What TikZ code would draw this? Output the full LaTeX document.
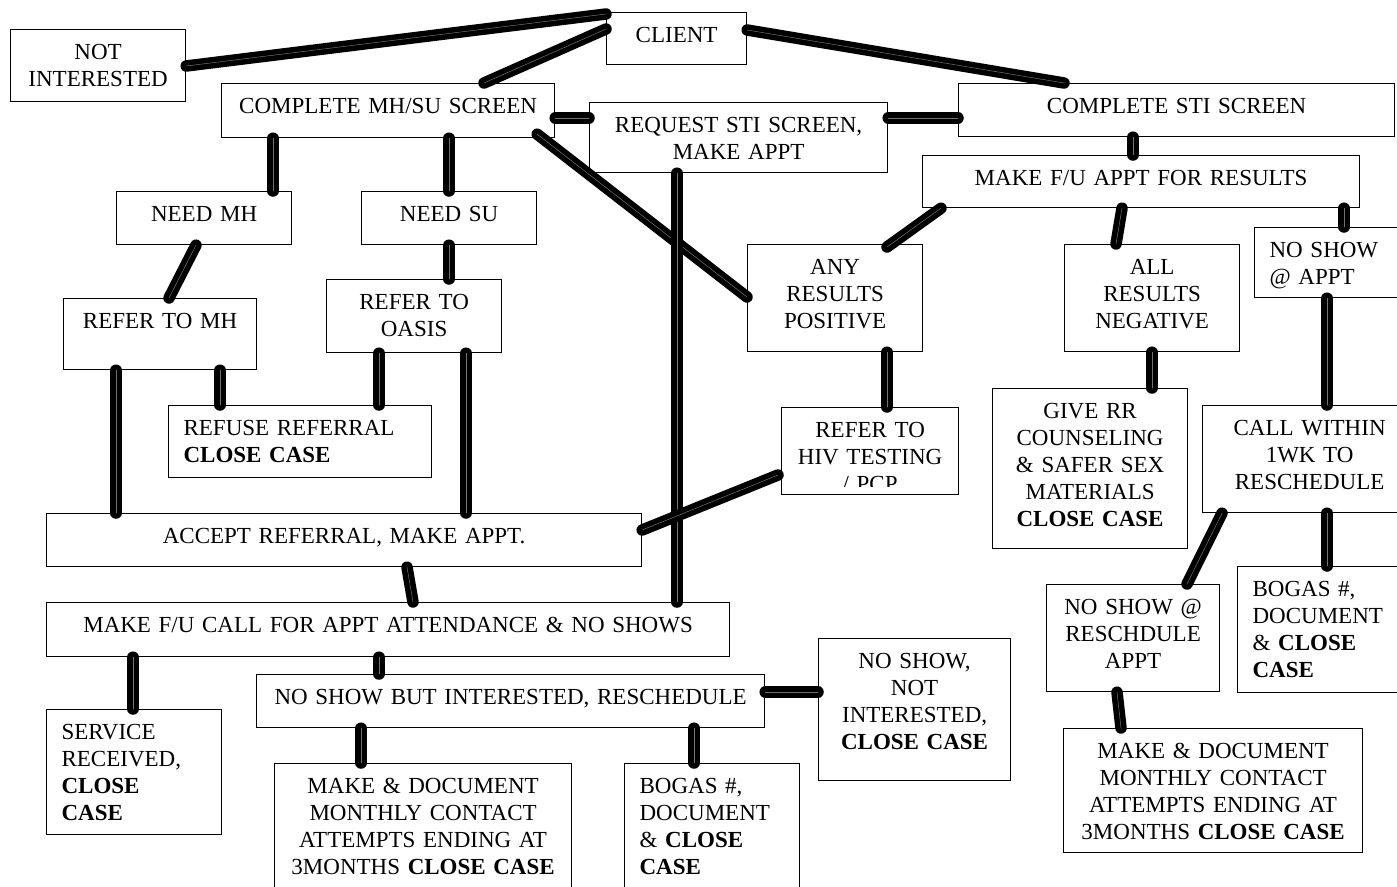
\documentclass[tikz,border=0pt]{standalone}
\usepackage{fontspec}
\setmainfont{Liberation Serif}
\usepackage{tikz}

\begin{document}
\begin{tikzpicture}[x=1pt, y=-1pt,
  box/.style={draw, line width=1.2pt, fill=white, anchor=north west, inner xsep=0pt, inner ysep=0pt, text height=30pt, align=center, font=\fontsize{23}{27}\selectfont},
  lbox/.style={box, inner xsep=15pt, align=left},
  link/.style={line width=5.5pt, double=black!55, double distance=0.5pt, line cap=round}]
  \useasboundingbox (0,0) rectangle (1397,886);
  \node[box, text width=140pt, text depth=22pt] (client) at (606,12) {CLIENT};
  \node[box, text width=175pt, text depth=42pt] (notint) at (10,29) {NOT\\INTERESTED};
  \node[box, text width=333pt, text depth=24pt] (mhsu) at (221,83) {COMPLETE MH/SU SCREEN};
  \node[box, text width=298pt, text depth=40pt] (req) at (589,102) {REQUEST STI SCREEN,\\MAKE APPT};
  \node[box, text width=436pt, text depth=23pt] (sti) at (958,83) {COMPLETE STI SCREEN};
  \node[box, text width=437pt, text depth=22pt] (fuappt) at (922,155) {MAKE F/U APPT FOR RESULTS};
  \node[box, text width=175pt, text depth=23pt] (needmh) at (116,191) {NEED MH};
  \node[box, text width=175pt, text depth=23pt] (needsu) at (361,191) {NEED SU};
  \node[box, text width=193pt, text depth=41pt] (refmh) at (63,298) {REFER TO MH};
  \node[box, text width=175pt, text depth=43pt] (oasis) at (326,279) {REFER TO\\OASIS};
  \node[box, text width=175pt, text depth=77pt] (anypos) at (747,244) {ANY\\RESULTS\\POSITIVE};
  \node[box, text width=175pt, text depth=77pt] (allneg) at (1064,244) {ALL\\RESULTS\\NEGATIVE};
  \node[lbox, text width=130pt, text depth=40pt] (noshow) at (1254,227) {NO SHOW\\@ APPT};
  \node[lbox, text width=233pt, text depth=42pt] (refuse) at (168,405) {REFUSE REFERRAL\\\textbf{CLOSE CASE}};
  \node[box, text width=177pt, text depth=57pt] (hiv) at (781,407) {};
  \begin{scope}
    \clip (hiv.north west) rectangle ([yshift=9pt]hiv.south east);
    \node[box, draw=none, fill=none, text width=177pt, text depth=57pt] (hivtext) at (781,407) {REFER TO\\HIV TESTING\\/ PCP};
  \end{scope}
  \node[box, text width=195pt, text depth=130pt] (giverr) at (992,388) {GIVE RR\\COUNSELING\\\& SAFER SEX\\MATERIALS\\\textbf{CLOSE CASE}};
  \node[box, text width=214pt, text depth=77pt] (call) at (1202,405) {CALL WITHIN\\1WK TO\\RESCHEDULE};
  \node[box, text width=595pt, text depth=23pt] (accept) at (46,513) {ACCEPT REFERRAL, MAKE APPT.};
  \node[box, text width=683pt, text depth=24pt] (mkfu) at (46,602) {MAKE F/U CALL FOR APPT ATTENDANCE \& NO SHOWS};
  \node[box, text width=173pt, text depth=77pt] (noresch) at (1046,584) {NO SHOW @\\RESCHDULE\\APPT};
  \node[lbox, text width=150pt, text depth=96pt] (bogas2) at (1237,566) {BOGAS \#,\\DOCUMENT\\\& \textbf{CLOSE}\\\textbf{CASE}};
  \node[box, text width=508pt, text depth=23pt] (nsbut) at (256,674) {NO SHOW BUT INTERESTED, RESCHEDULE};
  \node[box, text width=192pt, text depth=112pt] (nsnot) at (818,638) {NO SHOW,\\NOT\\INTERESTED,\\\textbf{CLOSE CASE}};
  \node[lbox, text width=145pt, text depth=95pt] (service) at (46,709) {SERVICE\\RECEIVED,\\\textbf{CLOSE}\\\textbf{CASE}};
  \node[box, text width=297pt, text depth=110pt] (mkdoc1) at (274,763) {MAKE \& DOCUMENT\\MONTHLY CONTACT\\ATTEMPTS ENDING AT\\3MONTHS \textbf{CLOSE CASE}};
  \node[lbox, text width=145pt, text depth=110pt] (bogas1) at (624,763) {BOGAS \#,\\DOCUMENT\\\& \textbf{CLOSE}\\\textbf{CASE}};
  \node[box, text width=299pt, text depth=94pt] (mkdoc2) at (1063,728) {MAKE \& DOCUMENT\\MONTHLY CONTACT\\ATTEMPTS ENDING AT\\3MONTHS \textbf{CLOSE CASE}};
  \draw[link] ([yshift=-2pt]client.north west) -- ([yshift=-37pt]notint.north east);
  \draw[link] ([yshift=-17pt]client.north west) -- ([xshift=263pt]mhsu.north west);
  \draw[link] ([yshift=-18pt]client.north east) -- ([xshift=106pt]sti.north west);
  \draw[link] ([yshift=-35pt]mhsu.north east) -- ([yshift=-16pt]req.north west);
  \draw[link] ([yshift=-16pt]req.north east) -- ([yshift=-35pt]sti.north west);
  \draw[link] ([xshift=-18pt,yshift=4pt]mhsu.south east) -- ([yshift=-53pt]anypos.north west);
  \draw[link] ([xshift=52pt]mhsu.south west) -- ([xshift=157pt]needmh.north west);
  \draw[link] ([xshift=228pt]mhsu.south west) -- ([xshift=88pt]needsu.north west);
  \draw[link] ([xshift=88pt]req.south west) -- ([xshift=631pt]mkfu.north west);
  \draw[link] ([xshift=175pt]sti.south west) -- ([xshift=211pt]fuappt.north west);
  \draw[link] ([xshift=19pt]fuappt.south west) -- ([xshift=140pt,yshift=-3pt]anypos.north west);
  \draw[link] ([xshift=200pt]fuappt.south west) -- ([xshift=52pt]allneg.north west);
  \draw[link] ([xshift=422pt]fuappt.south west) -- ([xshift=90pt]noshow.north west);
  \draw[link] ([xshift=80pt]needmh.south west) -- ([xshift=106pt]refmh.north west);
  \draw[link] ([xshift=88pt]needsu.south west) -- ([xshift=123pt]oasis.north west);
  \draw[link] ([xshift=53pt]refmh.south west) -- ([xshift=70pt]accept.north west);
  \draw[link] ([xshift=157pt]refmh.south west) -- ([xshift=52pt]refuse.north west);
  \draw[link] ([xshift=53pt]oasis.south west) -- ([xshift=211pt]refuse.north west);
  \draw[link] ([xshift=140pt]oasis.south west) -- ([xshift=420pt]accept.north west);
  \draw[link] ([xshift=140pt]anypos.south west) -- ([xshift=106pt]hiv.north west);
  \draw[link] ([xshift=88pt]allneg.south west) -- ([xshift=160pt]giverr.north west);
  \draw[link] ([xshift=73pt]noshow.south west) -- ([xshift=125pt]call.north west);
  \draw[link] ([xshift=-3pt,yshift=-68pt]hiv.north west) -- ([yshift=-17pt]accept.north east);
  \draw[link] ([xshift=361pt]accept.south west) -- ([xshift=367pt]mkfu.north west);
  \draw[link] ([xshift=20pt]call.south west) -- ([xshift=141pt]noresch.north west);
  \draw[link] ([xshift=125pt]call.south west) -- ([xshift=90pt]bogas2.north west);
  \draw[link] ([xshift=87pt]mkfu.south west) -- ([xshift=87pt]service.north west);
  \draw[link] ([xshift=333pt]mkfu.south west) -- ([xshift=123pt]nsbut.north west);
  \draw[link] ([yshift=-18pt]nsbut.north east) -- ([yshift=-54pt]nsnot.north west);
  \draw[link] ([xshift=105pt]nsbut.south west) -- ([xshift=87pt]mkdoc1.north west);
  \draw[link] ([xshift=438pt]nsbut.south west) -- ([xshift=70pt]bogas1.north west);
  \draw[link] ([xshift=71pt]noresch.south west) -- ([xshift=58pt]mkdoc2.north west);
\end{tikzpicture}
\end{document}
